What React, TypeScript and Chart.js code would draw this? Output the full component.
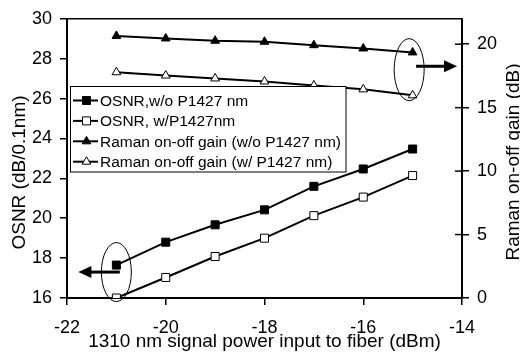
import React, { useEffect, useRef } from 'react';
import { Chart, registerables } from 'chart.js';

Chart.register(...registerables);

// ---- data ----
const signalPower = [-21, -20, -19, -18, -17, -16, -15];
const osnrWithout = [17.65, 18.8, 19.67, 20.42, 21.6, 22.47, 23.47];
const osnrWith = [16.0, 17.03, 18.08, 19.0, 20.13, 21.06, 22.14];
const ramanWithout = [20.65, 20.45, 20.27, 20.19, 19.92, 19.66, 19.35];
const ramanWith = [17.79, 17.53, 17.3, 17.06, 16.75, 16.44, 15.97];
const seriesLabels = [
  'OSNR,w/o P1427 nm',
  'OSNR, w/P1427nm',
  'Raman on-off gain (w/o P1427 nm)',
  'Raman on-off gain (w/ P1427 nm)',
];
const xTitle = '1310 nm signal power input to fiber (dBm)';
const yLeftTitle = 'OSNR (dB/0.1nm)';
const yRightTitle = 'Raman on-off gain (dB)';
const xRange = [-22, -14];
const yLeftRange = [16, 30];
const yRightRange = [0, 22];

const FONT = 'Liberation Sans, Arial, sans-serif';

const decorPlugin = {
  id: 'decor',
  afterDraw(chart: any) {
    const ctx = chart.ctx as CanvasRenderingContext2D;
    const { left, right, top } = chart.chartArea;
    const x = chart.scales.x;
    const y = chart.scales.y;
    const y1 = chart.scales.y1;
    ctx.save();
    // top frame line
    ctx.strokeStyle = '#000';
    ctx.lineWidth = 1.5;
    ctx.beginPath();
    ctx.moveTo(left, top);
    ctx.lineTo(right, top);
    ctx.stroke();
    // inner ticks on right axis
    y1.ticks.forEach((t: any) => {
      const py = y1.getPixelForValue(t.value);
      ctx.beginPath();
      ctx.moveTo(right - 7, py);
      ctx.lineTo(right, py);
      ctx.stroke();
    });

    // ellipses
    ctx.lineWidth = 1;
    const ell = (cx: number, cy: number, rx: number, ry: number) => {
      ctx.beginPath();
      ctx.ellipse(cx, cy, rx, ry, 0, 0, Math.PI * 2);
      ctx.stroke();
    };
    ell(x.getPixelForValue(-21.0), y.getPixelForValue(17.3), 15, 29.5);
    ell(x.getPixelForValue(-15.07), y.getPixelForValue(27.45), 15, 31);

    // arrows
    const arrow = (x0: number, x1: number, py: number) => {
      const dir = Math.sign(x1 - x0);
      ctx.strokeStyle = '#000';
      ctx.lineWidth = 3;
      ctx.beginPath();
      ctx.moveTo(x0, py);
      ctx.lineTo(x1 - dir * 10, py);
      ctx.stroke();
      ctx.fillStyle = '#000';
      ctx.beginPath();
      ctx.moveTo(x1, py);
      ctx.lineTo(x1 - dir * 13, py - 6);
      ctx.lineTo(x1 - dir * 13, py + 6);
      ctx.closePath();
      ctx.fill();
    };
    arrow(x.getPixelForValue(-20.93), x.getPixelForValue(-21.77), y.getPixelForValue(17.3));
    arrow(x.getPixelForValue(-14.93), x.getPixelForValue(-14.1), y.getPixelForValue(27.62));

    // legend
    const lx = 70.5, ly = 86.5, lw = 275.5, lh = 85.5;
    ctx.fillStyle = '#fff';
    ctx.fillRect(lx, ly, lw, lh);
    ctx.strokeStyle = '#000';
    ctx.lineWidth = 1;
    ctx.strokeRect(lx, ly, lw, lh);
    chart.data.datasets.forEach((ds: any, i: number) => {
      const cy = 100.5 + i * 20.4;
      ctx.strokeStyle = '#000';
      ctx.lineWidth = 2;
      ctx.beginPath();
      ctx.moveTo(73, cy);
      ctx.lineTo(98, cy);
      ctx.stroke();
      const cx = 86.5;
      ctx.fillStyle = ds.pointBackgroundColor;
      ctx.lineWidth = 1;
      ctx.beginPath();
      if (ds.pointStyle === 'rect') {
        const s = ds.pointRadius * Math.SQRT1_2;
        ctx.rect(cx - s, cy - s, 2 * s, 2 * s);
      } else {
        const r = ds.pointRadius;
        ctx.moveTo(cx, cy - r);
        ctx.lineTo(cx + r * 0.866, cy + r / 2);
        ctx.lineTo(cx - r * 0.866, cy + r / 2);
        ctx.closePath();
      }
      ctx.fill();
      ctx.stroke();
      ctx.fillStyle = '#000';
      ctx.font = `15.5px ${FONT}`;
      ctx.textAlign = 'left';
      ctx.textBaseline = 'middle';
      ctx.fillText(ds.label, 100, cy + 1);
    });

    // axis titles
    ctx.fillStyle = '#000';
    ctx.font = `19px ${FONT}`;
    ctx.textAlign = 'center';
    ctx.textBaseline = 'alphabetic';
    ctx.fillText(xTitle, (left + right) / 2, 347);
    ctx.save();
    ctx.translate(25, 172.5);
    ctx.rotate(-Math.PI / 2);
    ctx.fillText(yLeftTitle, 0, 0);
    ctx.restore();
    ctx.save();
    ctx.translate(519, 162);
    ctx.rotate(-Math.PI / 2);
    ctx.fillText(yRightTitle, 0, 0);
    ctx.restore();
    ctx.restore();
  },
};

const bgPlugin = {
  id: 'bg',
  beforeDraw(chart: any) {
    const ctx = chart.ctx;
    ctx.save();
    ctx.fillStyle = '#fff';
    ctx.fillRect(0, 0, chart.width, chart.height);
    ctx.restore();
  },
};

export default function App() {
  const ref = useRef<HTMLCanvasElement>(null);
  useEffect(() => {
    if (!ref.current) return;
    const mk = (vals: number[]) => signalPower.map((v, i) => ({ x: v, y: vals[i] }));
    const tickFont = { family: FONT, size: 18 };
    const chart = new Chart(ref.current, {
      type: 'line',
      data: {
        datasets: [
          {
            label: seriesLabels[0], data: mk(osnrWithout), yAxisID: 'y',
            borderColor: '#000', borderWidth: 2, pointStyle: 'rect', pointRadius: 5.66,
            pointBackgroundColor: '#000', pointBorderColor: '#000', pointBorderWidth: 1,
          },
          {
            label: seriesLabels[1], data: mk(osnrWith), yAxisID: 'y',
            borderColor: '#000', borderWidth: 2, pointStyle: 'rect', pointRadius: 5.66,
            pointBackgroundColor: '#fff', pointBorderColor: '#000', pointBorderWidth: 1,
          },
          {
            label: seriesLabels[2], data: mk(ramanWithout), yAxisID: 'y1',
            borderColor: '#000', borderWidth: 2, pointStyle: 'triangle', pointRadius: 5,
            pointBackgroundColor: '#000', pointBorderColor: '#000', pointBorderWidth: 1,
          },
          {
            label: seriesLabels[3], data: mk(ramanWith), yAxisID: 'y1',
            borderColor: '#000', borderWidth: 2, pointStyle: 'triangle', pointRadius: 5,
            pointBackgroundColor: '#fff', pointBorderColor: '#000', pointBorderWidth: 1,
          },
        ] as any,
      },
      options: {
        animation: false,
        responsive: false,
        devicePixelRatio: 1,
        layout: { padding: { top: 16, left: 0, right: 0, bottom: 0 } },
        plugins: { legend: { display: false }, tooltip: { enabled: false } },
        scales: {
          x: {
            type: 'linear', min: xRange[0], max: xRange[1],
            ticks: { stepSize: 2, color: '#000', font: tickFont, padding: 12, maxRotation: 0 },
            grid: { drawOnChartArea: false, tickLength: 7, color: '#000', lineWidth: 1.5 },
            border: { color: '#000', width: 2 },
            afterFit: (s: any) => { s.height = 55; },
          },
          y: {
            type: 'linear', position: 'left', min: yLeftRange[0], max: yLeftRange[1],
            ticks: { stepSize: 2, color: '#000', font: tickFont, padding: 8 },
            grid: { drawOnChartArea: false, tickLength: 7, color: '#000', lineWidth: 1.5 },
            border: { color: '#000', width: 2 },
            afterFit: (s: any) => { s.width = 67; },
          },
          y1: {
            type: 'linear', position: 'right', min: yRightRange[0], max: yRightRange[1],
            ticks: { stepSize: 5, includeBounds: false, color: '#000', font: tickFont, padding: 8 },
            grid: { drawOnChartArea: false, tickLength: 7, color: '#000', lineWidth: 1.5 },
            border: { color: '#000', width: 2 },
            afterFit: (s: any) => { s.width = 58; },
          },
        },
      } as any,
      plugins: [bgPlugin, decorPlugin],
    });
    return () => chart.destroy();
  }, []);
  return (
    <div style={{ position: 'absolute', left: 0, top: 0, width: 520, height: 353 }}>
      <canvas ref={ref} width={520} height={353} style={{ width: 520, height: 353, display: 'block' }} />
    </div>
  );
}
